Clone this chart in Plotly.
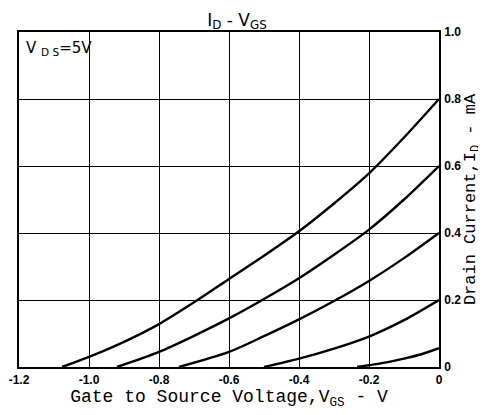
import plotly.graph_objects as go

# Curves (V_GS in V, I_D in mA)
c1_x = [-1.077, -1.0, -0.9, -0.8, -0.7, -0.6, -0.5, -0.4, -0.3, -0.2, -0.1, 0.0]
c1_y = [0.0, 0.03, 0.075, 0.128, 0.193, 0.263, 0.332, 0.405, 0.488, 0.578, 0.685, 0.80]
c2_x = [-0.92, -0.8, -0.7, -0.6, -0.5, -0.4, -0.3, -0.2, -0.1, 0.0]
c2_y = [0.0, 0.045, 0.093, 0.145, 0.203, 0.265, 0.335, 0.41, 0.50, 0.60]
c3_x = [-0.743, -0.6, -0.5, -0.4, -0.3, -0.2, -0.1, 0.0]
c3_y = [0.0, 0.045, 0.092, 0.142, 0.197, 0.257, 0.325, 0.40]
c4_x = [-0.50, -0.4, -0.3, -0.2, -0.1, 0.0]
c4_y = [0.0, 0.025, 0.055, 0.091, 0.14, 0.20]
c5_x = [-0.234, -0.15, -0.1, -0.05, 0.0]
c5_y = [0.0, 0.014, 0.025, 0.038, 0.056]

x_ticks = [-1.2, -1.0, -0.8, -0.6, -0.4, -0.2, 0.0]
x_tick_text = ["-1.2", "-1.0", "-0.8", "-0.6", "-0.4", "-0.2", "0"]
y_ticks = [0.0, 0.2, 0.4, 0.6, 0.8, 1.0]
y_tick_text = ["0", "0.2", "0.4", "0.6", "0.8", "1.0"]

fig = go.Figure()
for xs, ys in [(c1_x, c1_y), (c2_x, c2_y), (c3_x, c3_y), (c4_x, c4_y), (c5_x, c5_y)]:
    fig.add_trace(go.Scatter(x=xs, y=ys, mode="lines",
                             line=dict(color="black", width=2.4, shape="spline", smoothing=0.8),
                             showlegend=False, hoverinfo="skip"))

tickfont = dict(family="Liberation Sans", size=12, color="black", weight="bold")
# page body adds an 8px offset, so the figure is sized 8px smaller
fig.update_layout(
    width=478, height=407,
    margin=dict(l=11, r=47, t=24, b=48),
    paper_bgcolor="white", plot_bgcolor="white",
    title=dict(text="I<sub>D</sub> - V<sub>GS</sub>", x=0.479, xanchor="center",
               y=0.986, yanchor="top",
               font=dict(family="DejaVu Sans", size=17, color="black")),
    xaxis=dict(range=[-1.2, 0.0], tickvals=x_ticks, ticktext=x_tick_text,
               showgrid=True, gridcolor="black", gridwidth=1.4,
               showline=True, linecolor="black", linewidth=1.8, mirror=True,
               zeroline=False, ticks="", tickfont=tickfont, ticklabelstandoff=1,
               automargin=False,
               title=dict(text="Gate to Source Voltage,V<sub>GS</sub> - V",
                          font=dict(family="Liberation Mono", size=18, color="black"),
                          standoff=3)),
    yaxis=dict(range=[0.0, 1.0], tickvals=y_ticks, ticktext=y_tick_text, side="right",
               showgrid=True, gridcolor="black", gridwidth=1.4,
               showline=True, linecolor="black", linewidth=1.8, mirror=True,
               zeroline=False, ticks="", tickfont=tickfont, ticklabelstandoff=1,
               automargin=False,
               title=dict(text="Drain Current,I<sub>D</sub> - mA",
                          font=dict(family="Liberation Mono", size=17, color="black"),
                          standoff=0)),
    annotations=[dict(text="V <sub>D S</sub>=5V", x=0.012, y=0.985, xref="paper", yref="paper",
                      xanchor="left", yanchor="top", showarrow=False,
                      font=dict(family="DejaVu Sans", size=15, color="black"))],
)

fig.write_html("out.html")
